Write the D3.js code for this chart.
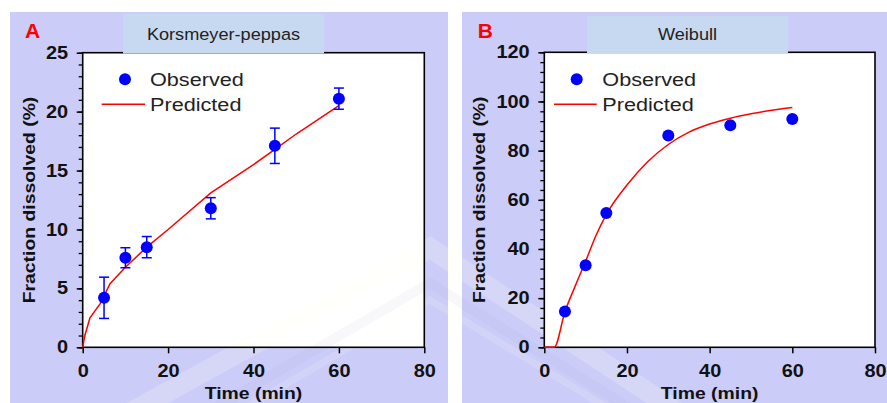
<!DOCTYPE html>
<html>
<head>
<meta charset="utf-8">
<script src="https://cdn.jsdelivr.net/npm/d3@7"></script>
<style>
  html, body { margin: 0; padding: 0; background: #fff; }
  svg { display: block; font-family: "Liberation Sans", Arial, sans-serif; }
</style>
</head>
<body>
<div id="chart"></div>
<script>
// ---- data ----
const obsTime = [5, 10, 15, 30, 45, 60]

// panel A : Korsmeyer-peppas
const kpObserved = [4.2, 7.6, 8.5, 11.8, 17.1, 21.1]
const kpError = [1.75, 0.85, 0.9, 0.9, 1.5, 0.9]
const kpPredTime = [0, 0.5, 1.1, 1.7, 4.1, 6.4, 10, 15, 20, 30, 40, 45, 50, 60]
const kpPredicted = [0, 1.0, 1.75, 2.5, 3.7, 5.4, 6.8, 8.5, 10.0, 13.1, 15.5, 16.8, 18.1, 20.5]

// panel B : Weibull
const wbObserved = [14.6, 33.4, 54.6, 86.2, 90.3, 92.9]
const wbPredTime = [0, 2.4, 5, 7.5, 10, 12.5, 15, 20, 25, 30, 35, 40, 45, 50, 55, 60]
const wbPredicted = [0, 0, 14.5, 25, 35, 45.5, 54, 66, 75.5, 82.5, 87.5, 90.8, 93.2, 95, 96.4, 97.5]

const xTicks = [0, 20, 40, 60, 80]
const kpYTicks = [0, 5, 10, 15, 20, 25]
const wbYTicks = [0, 20, 40, 60, 80, 100, 120]
const legendLabels = ["Observed", "Predicted"]

// ---- layout ----
const WIDTH = 887
const HEIGHT = 403
const SX = 1.14            // the original text is drawn a bit wider than Arial
const LAVENDER = "#ccccf9"
const TITLEBOX = "#c6d9f0"

const svg = d3.select("#chart").append("svg")
    .attr("width", WIDTH)
    .attr("height", HEIGHT)

const bgLayer = svg.append("g")
const wmLayer = svg.append("g")
const fgLayer = svg.append("g")

const panels = [
    {
        letter: "A", title: "Korsmeyer-peppas",
        bg: {x: 10, y: 12, w: 438, h: 391},
        plot: {LEFT: 82.7, RIGHT: 424.3, TOP: 52.7, BOTTOM: 347.3},
        titleBox: {x: 123, y: 14, w: 201, h: 39.5},
        letterX: 25, yTitleX: 35,
        yMax: 25, yTicks: kpYTicks, yMinorStep: 1,
        observed: kpObserved, error: kpError,
        predTime: kpPredTime, predicted: kpPredicted, curve: d3.curveLinear,
        legend: {dotX: 42.3, lineX0: 19, lineX1: 62.3, textX: 67.3}
    },
    {
        letter: "B", title: "Weibull",
        bg: {x: 462, y: 12, w: 425, h: 391},
        plot: {LEFT: 544.3, RIGHT: 875, TOP: 52.3, BOTTOM: 347.3},
        titleBox: {x: 587, y: 16, w: 201, h: 37.8},
        letterX: 477.7, yTitleX: 485,
        yMax: 120, yTicks: wbYTicks, yMinorStep: 4,
        observed: wbObserved, error: null,
        predTime: wbPredTime, predicted: wbPredicted, curve: d3.curveMonotoneX,
        legend: {dotX: 32.4, lineX0: 9.7, lineX1: 52.4, textX: 58}
    }
]

// backgrounds + white plot areas
panels.forEach(p => {
    bgLayer.append("rect")
        .attr("x", p.bg.x).attr("y", p.bg.y)
        .attr("width", p.bg.w).attr("height", p.bg.h)
        .attr("fill", LAVENDER)
    bgLayer.append("rect")
        .attr("x", p.plot.LEFT).attr("y", p.plot.TOP)
        .attr("width", p.plot.RIGHT - p.plot.LEFT)
        .attr("height", p.plot.BOTTOM - p.plot.TOP)
        .attr("fill", "#fff")
})

// faint chevron watermark behind the marks
const wm = d3.line()
wmLayer.append("path")
    .attr("d", wm([[120, 418], [430, 248], [690, 420]]))
    .attr("fill", "none").attr("stroke", "#fffff0")
    .attr("stroke-opacity", 0.2).attr("stroke-width", 20)
wmLayer.append("path")
    .attr("d", wm([[160, 440], [430, 283], [680, 440]]))
    .attr("fill", "none").attr("stroke", "#8c8cc0")
    .attr("stroke-opacity", 0.06).attr("stroke-width", 10)
wmLayer.append("path")
    .attr("d", wm([[170, 452], [430, 300], [680, 452]]))
    .attr("fill", "none").attr("stroke", "#fffff0")
    .attr("stroke-opacity", 0.15).attr("stroke-width", 7)

function drawPanel(p) {
    const g = fgLayer.append("g")
    const PLOT = p.plot

    const x = d3.scaleLinear().domain([0, 80]).range([PLOT.LEFT, PLOT.RIGHT])
    const y = d3.scaleLinear().domain([0, p.yMax]).range([PLOT.BOTTOM, PLOT.TOP])

    // minor ticks
    g.append("g")
        .attr("transform", `translate(${PLOT.LEFT},0)`)
        .call(d3.axisLeft(y).tickValues(d3.range(0, p.yMax + 0.001, p.yMinorStep)).tickSize(4).tickFormat(""))
        .call(a => a.select(".domain").remove())
        .call(a => a.selectAll("line").attr("stroke", "#000").attr("stroke-width", 1.3))

    // y axis
    g.append("g")
        .attr("transform", `translate(${PLOT.LEFT},0)`)
        .call(d3.axisLeft(y).tickValues(p.yTicks).tickSize(6).tickSizeOuter(0))
        .call(a => a.select(".domain").remove())
        .call(a => a.selectAll("line").attr("stroke", "#000").attr("stroke-width", 1.5))
        .call(a => a.selectAll("text")
            .attr("x", -14.6 / SX)
            .attr("transform", `scale(${SX},1)`)
            .attr("fill", "#111")
            .style("font-size", "17.5px").style("font-weight", "bold"))

    // x axis
    g.append("g")
        .attr("transform", `translate(0,${PLOT.BOTTOM})`)
        .call(d3.axisBottom(x).tickValues(xTicks).tickSize(6).tickPadding(11).tickSizeOuter(0))
        .call(a => a.select(".domain").remove())
        .call(a => a.selectAll("line").attr("stroke", "#000").attr("stroke-width", 1.5))
        .call(a => a.selectAll("text")
            .attr("transform", `scale(${SX},1)`)
            .attr("fill", "#111")
            .style("font-size", "17.5px").style("font-weight", "bold"))

    // frame
    g.append("rect")
        .attr("x", PLOT.LEFT).attr("y", PLOT.TOP)
        .attr("width", PLOT.RIGHT - PLOT.LEFT)
        .attr("height", PLOT.BOTTOM - PLOT.TOP)
        .attr("fill", "none").attr("stroke", "#000").attr("stroke-width", 1.6)

    // title box sits over the top of the frame
    g.append("rect")
        .attr("x", p.titleBox.x).attr("y", p.titleBox.y)
        .attr("width", p.titleBox.w).attr("height", p.titleBox.h)
        .attr("fill", TITLEBOX)
    g.append("text")
        .attr("transform", `translate(${p.titleBox.x + p.titleBox.w / 2},40) scale(1.1,1)`)
        .attr("text-anchor", "middle")
        .attr("fill", "#222")
        .style("font-size", "16.5px")
        .text(p.title)

    // panel letter
    g.append("text")
        .attr("x", p.letterX).attr("y", 37.7)
        .attr("fill", "#ff0000")
        .style("font-size", "21px").style("font-weight", "bold")
        .text(p.letter)

    // axis titles
    g.append("text")
        .attr("transform", `translate(${(PLOT.LEFT + PLOT.RIGHT) / 2},399) scale(${SX},1)`)
        .attr("text-anchor", "middle")
        .attr("fill", "#111")
        .style("font-size", "17px").style("font-weight", "bold")
        .text("Time (min)")
    g.append("text")
        .attr("transform", `translate(${p.yTitleX},${(PLOT.TOP + PLOT.BOTTOM) / 2}) rotate(-90) scale(${SX},1)`)
        .attr("text-anchor", "middle")
        .attr("fill", "#111")
        .style("font-size", "17px").style("font-weight", "bold")
        .text("Fraction dissolved (%)")

    // predicted line
    const line = d3.line()
        .x((d, i) => x(p.predTime[i]))
        .y(d => y(d))
        .curve(p.curve)
    g.append("path")
        .datum(p.predicted)
        .attr("d", line)
        .attr("fill", "none")
        .attr("stroke", "#ff0000")
        .attr("stroke-width", 1.5)

    // error bars
    if (p.error) {
        const eb = g.append("g").attr("stroke", "#0000ff").attr("stroke-width", 1.5)
        p.observed.forEach((v, i) => {
            const cx = x(obsTime[i])
            const y0 = y(v - p.error[i]), y1 = y(v + p.error[i])
            eb.append("line").attr("x1", cx).attr("x2", cx).attr("y1", y0).attr("y2", y1)
            eb.append("line").attr("x1", cx - 5).attr("x2", cx + 5).attr("y1", y0).attr("y2", y0)
            eb.append("line").attr("x1", cx - 5).attr("x2", cx + 5).attr("y1", y1).attr("y2", y1)
        })
    }

    // observed points
    g.selectAll("circle.obs")
        .data(p.observed)
        .enter()
        .append("circle")
        .attr("class", "obs")
        .attr("cx", (d, i) => x(obsTime[i]))
        .attr("cy", d => y(d))
        .attr("r", 6)
        .attr("fill", "#0000ff")

    // legend
    const L = p.legend
    g.append("circle")
        .attr("cx", PLOT.LEFT + L.dotX).attr("cy", 79.3).attr("r", 6)
        .attr("fill", "#0000ff")
    g.append("line")
        .attr("x1", PLOT.LEFT + L.lineX0).attr("x2", PLOT.LEFT + L.lineX1)
        .attr("y1", 104.3).attr("y2", 104.3)
        .attr("stroke", "#ff0000").attr("stroke-width", 1.5)
    g.selectAll("text.leg")
        .data(legendLabels)
        .enter()
        .append("text")
        .attr("class", "leg")
        .attr("transform", (d, i) => `translate(${PLOT.LEFT + L.textX},${86 + i * 25}) scale(${SX},1)`)
        .attr("fill", "#222")
        .style("font-size", "19px")
        .text(d => d)
}

panels.forEach(drawPanel)
</script>
</body>
</html>
